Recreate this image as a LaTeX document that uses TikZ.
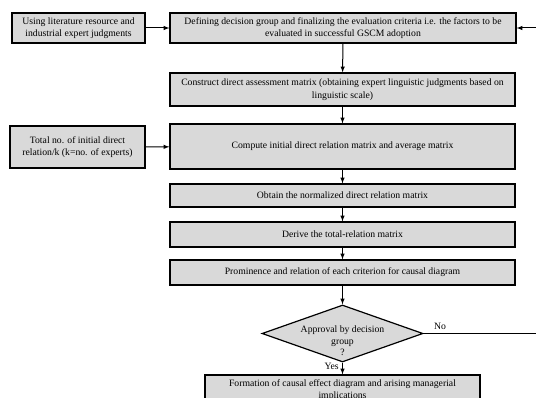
\documentclass[tikz,border=0pt]{standalone}
\usepackage{fontspec}
\setmainfont{Liberation Serif}
\usetikzlibrary{shapes.geometric,arrows}
\definecolor{boxgray}{RGB}{217,217,217}

\begin{document}
\begin{tikzpicture}[x=1pt,y=-1pt,
  stepbox/.style={draw, line width=1.2pt, fill=boxgray, align=center, inner sep=1pt, font=\fontsize{9.7}{12.5}\selectfont},
  flow/.style={-latex, line width=1pt}]
  \clip (0,0) rectangle (536,398);
  % input boxes on the left
  \node[stepbox, minimum width=133, minimum height=30] (lit) at (78.5,28) {Using literature resource and\\industrial expert judgments};
  \node[stepbox, minimum width=135, minimum height=42] (tot) at (77.5,147) {Total no. of initial direct\\relation/k (k=no. of experts)};
  % main steps
  \node[stepbox, minimum width=346, minimum height=30] (def) at (343,28) {Defining decision group and finalizing the evaluation criteria i.e. the factors to be\\evaluated in successful GSCM adoption};
  \node[stepbox, minimum width=345, minimum height=33] (con) at (342.5,89.5) {Construct direct assessment matrix (obtaining expert linguistic judgments based on\\linguistic scale)};
  \node[stepbox, minimum width=345, minimum height=45] (comp) at (342.5,146.5) {Compute initial direct relation matrix and average matrix};
  \node[stepbox, minimum width=345, minimum height=23] (norm) at (342.5,195.5) {Obtain the normalized direct relation matrix};
  \node[stepbox, minimum width=345, minimum height=25] (deriv) at (342.5,234.5) {Derive the total-relation matrix};
  \node[stepbox, minimum width=345, minimum height=25] (prom) at (342.5,272.5) {Prominence and relation of each criterion for causal diagram};
  \node[diamond, draw, line width=1.2pt, fill=boxgray, minimum width=161, minimum height=57, inner sep=0pt] (appr) at (342.5,333.5) {};
  \node[align=center, font=\fontsize{9.7}{11.5}\selectfont] (apprtxt) at (342.5,341) {Approval by decision\\group\\?};
  \node[stepbox, minimum width=275, minimum height=30] (form) at (342.5,390) {Formation of causal effect diagram and arising managerial\\implications};
  % connectors
  \draw[flow] (lit) -- (def);
  \draw[flow] (tot) -- (comp);
  \draw[flow] (def) -- (con);
  \draw[flow] (con) -- (comp);
  \draw[flow] (comp) -- (norm);
  \draw[flow] (norm) -- (deriv);
  \draw[flow] (deriv) -- (prom);
  \draw[flow] (prom) -- (appr.north);
  \draw[flow] (appr.south) -- (form) node[pos=0.3, left, font=\fontsize{9.7}{10}\selectfont] {Yes};
  \draw[flow] (appr.east) -- (560,333.5) node[pos=0.12, above, font=\fontsize{9.7}{10}\selectfont] {No} |- (def.east);
\end{tikzpicture}
\end{document}
